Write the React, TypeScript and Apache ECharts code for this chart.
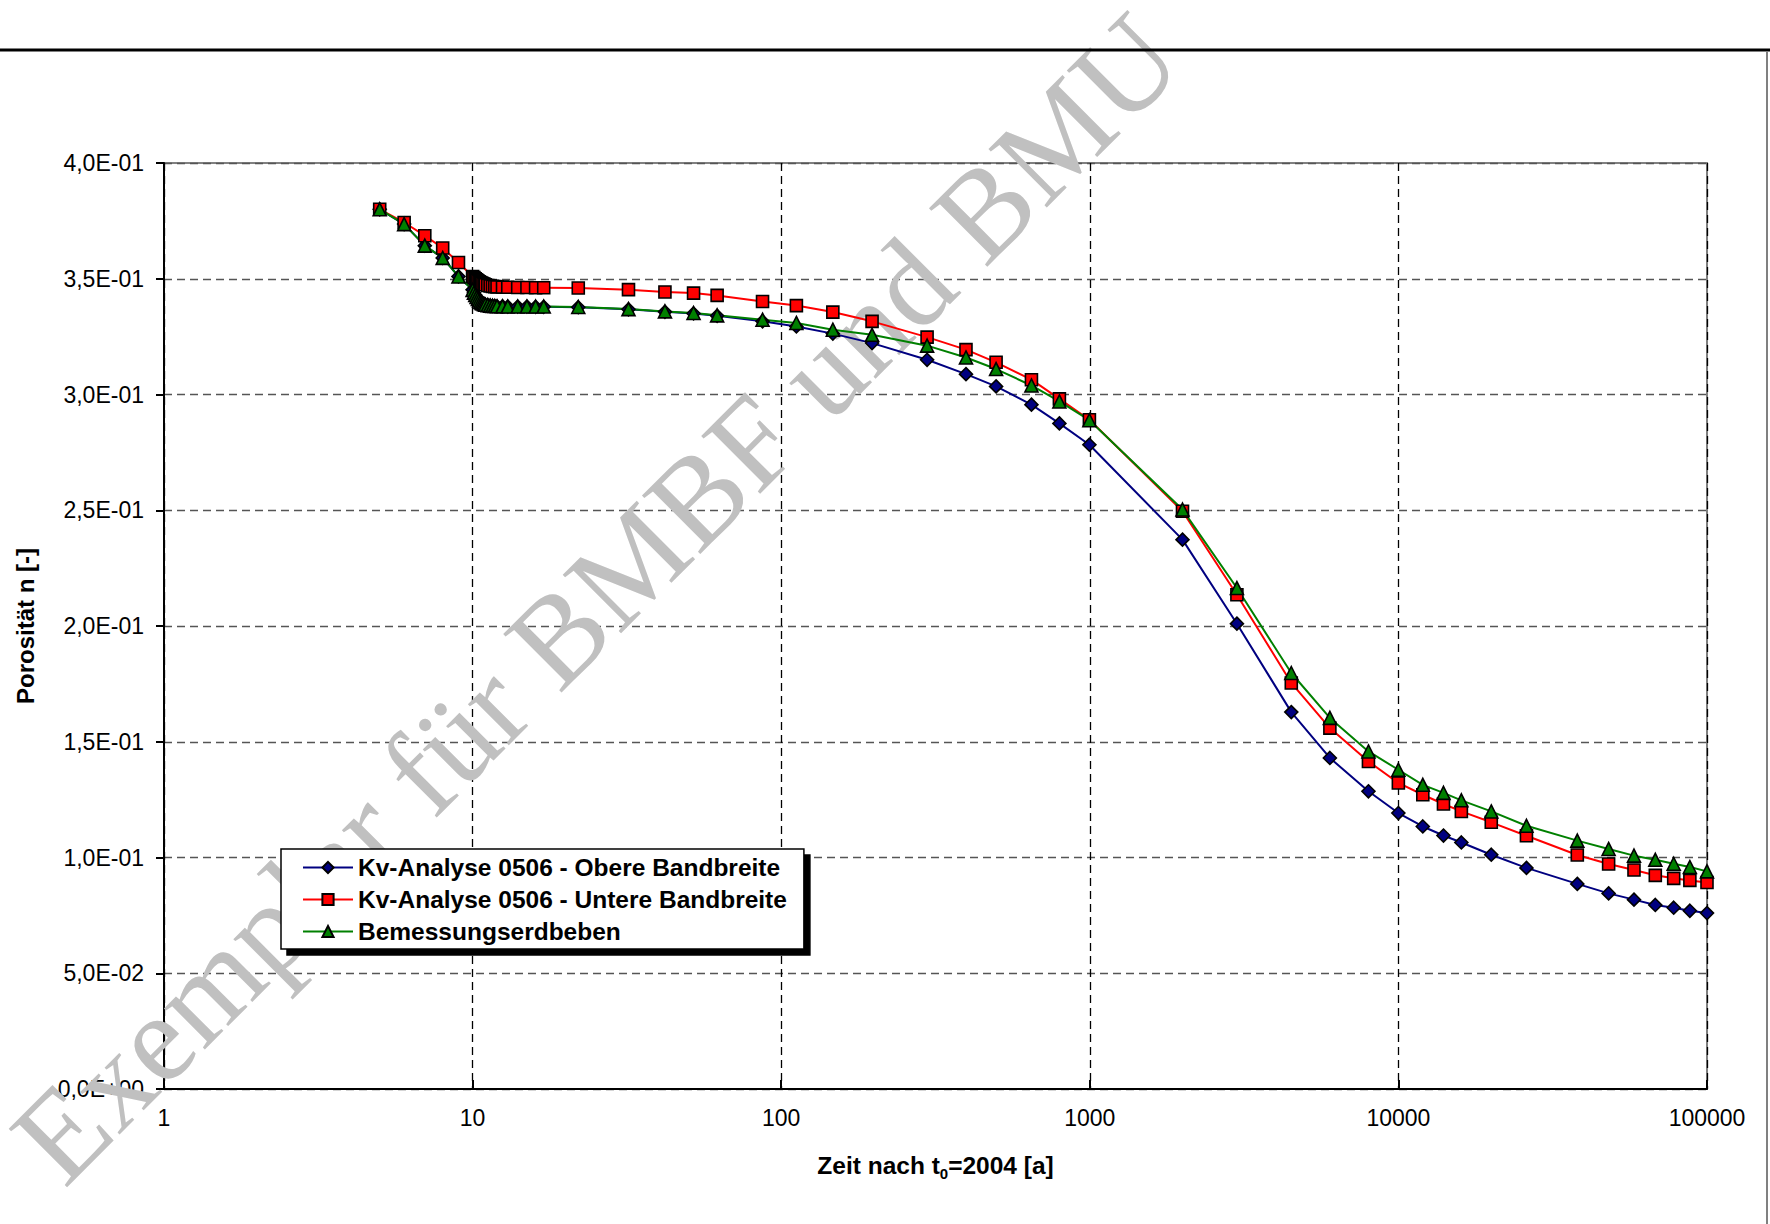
import React, { useEffect, useRef } from "react";
import * as echarts from "echarts";

// Zeit nach t0=2004 [a]
const times = [
  5, 6, 7, 8, 9,
  10, 10.1, 10.2, 10.3, 10.4, 10.5, 10.6, 10.7, 10.8, 10.9,
  11, 11.2, 11.4, 11.6, 11.8,
  12, 12.5, 13,
  14, 15, 16, 17,
  22, 32, 42, 52, 62,
  87, 112, 147, 197,
  297, 397, 497, 647, 797, 997,
  1997, 2997, 4497, 5997, 7997, 9997,
  11997, 13997, 15997, 19997, 25997, 37997, 47997, 57997, 67997, 77997, 87997, 99997,
];

// Kv-Analyse 0506 - Obere Bandbreite
const obere = [
  0.380, 0.3736, 0.3643, 0.3590, 0.3510,
  0.3452, 0.3440, 0.3430, 0.3421, 0.3413, 0.3406, 0.3400, 0.3396, 0.3393, 0.3390,
  0.3388, 0.3386, 0.3384, 0.3383, 0.3382,
  0.3381, 0.3381, 0.3380,
  0.3380, 0.3380, 0.3379, 0.3379,
  0.3377, 0.3368, 0.3357, 0.3350, 0.3340,
  0.3316, 0.3294, 0.3263, 0.3222,
  0.3150, 0.3088, 0.3035, 0.2956, 0.2875, 0.2783,
  0.2373, 0.2010, 0.1628, 0.1430, 0.1286, 0.1192,
  0.1134, 0.1095, 0.1065, 0.1012, 0.0955, 0.0886, 0.0845, 0.0818, 0.0795, 0.0783, 0.0770, 0.0760,
];

// Kv-Analyse 0506 - Untere Bandbreite
const untere = [
  0.380, 0.3743, 0.3686, 0.3633, 0.3570,
  0.3510, 0.3505, 0.3500, 0.3495, 0.3491, 0.3487, 0.3484, 0.3481, 0.3478, 0.3476,
  0.3474, 0.3471, 0.3469, 0.3467, 0.3466,
  0.3465, 0.3464, 0.3463,
  0.3462, 0.3462, 0.3461, 0.3461,
  0.3460, 0.3453, 0.3443, 0.3438, 0.3428,
  0.3402, 0.3384, 0.3356, 0.3316,
  0.3248, 0.3194, 0.3139, 0.3064, 0.2981, 0.2891,
  0.2496, 0.2135, 0.1754, 0.1559, 0.1415, 0.1322,
  0.1271, 0.1231, 0.1199, 0.1152, 0.1094, 0.1011, 0.0972, 0.0946, 0.0923, 0.0910, 0.0901, 0.0892,
];

// Bemessungserdbeben
const bemessung = [
  0.380, 0.3736, 0.3643, 0.3590, 0.3510,
  0.3452, 0.3440, 0.3430, 0.3421, 0.3413, 0.3406, 0.3400, 0.3396, 0.3393, 0.3390,
  0.3388, 0.3386, 0.3384, 0.3383, 0.3382,
  0.3381, 0.3381, 0.3380,
  0.3380, 0.3380, 0.3380, 0.3380,
  0.3378, 0.3369, 0.3359, 0.3352, 0.3342,
  0.3323, 0.3309, 0.3280, 0.3258,
  0.3211, 0.3160, 0.3110, 0.3039, 0.2970, 0.2889,
  0.2503, 0.2164, 0.1797, 0.1603, 0.1458, 0.1379,
  0.1314, 0.1279, 0.1247, 0.1199, 0.1137, 0.1073, 0.1037, 0.1008, 0.0990, 0.0973, 0.0959, 0.0940,
];

const seriesNames = [
  "Kv-Analyse 0506 - Obere Bandbreite",
  "Kv-Analyse 0506 - Untere Bandbreite",
  "Bemessungserdbeben",
];

const xTickLabels = ["1", "10", "100", "1000", "10000", "100000"];
const yTickLabels = [
  "0,0E+00", "5,0E-02", "1,0E-01", "1,5E-01", "2,0E-01",
  "2,5E-01", "3,0E-01", "3,5E-01", "4,0E-01",
];

const watermark = "Exemplar für BMBF und BMU";

const FONT = "Liberation Sans, Arial, sans-serif";

function pair(vals: number[]) {
  return times.map((t, i) => [t, vals[i]]);
}

export default function App() {
  const ref = useRef<HTMLDivElement>(null);

  useEffect(() => {
    if (!ref.current) return;
    const chart = echarts.init(ref.current, null, { renderer: "svg" });

    const lineSeries = (
      name: string,
      vals: number[],
      color: string,
      symbol: string,
      size: number
    ) => ({
      name,
      type: "line",
      data: pair(vals),
      smooth: false,
      symbol,
      symbolSize: size,
      showAllSymbol: true,
      lineStyle: { color, width: 2 },
      itemStyle: { color, borderColor: "#000", borderWidth: 1.6 },
      emphasis: { disabled: true },
    });

    chart.setOption({
      animation: false,
      backgroundColor: "#fff",
      textStyle: { fontFamily: FONT },
      grid: {
        left: 164,
        right: 63,
        top: 163,
        bottom: 135,
        show: true,
        borderColor: "#808080",
        borderWidth: 2,
        backgroundColor: "transparent",
      },
      legend: {
        orient: "vertical",
        left: 281,
        top: 849,
        padding: [6, 17, 5, 21],
        itemWidth: 50,
        itemHeight: 14,
        itemGap: 7,
        backgroundColor: "#fff",
        borderColor: "#000",
        borderWidth: 1.5,
        shadowColor: "#000",
        shadowBlur: 0,
        shadowOffsetX: 6,
        shadowOffsetY: 6,
        textStyle: {
          fontFamily: FONT,
          fontSize: 24.5,
          fontWeight: "bold",
          color: "#000",
        },
        data: seriesNames,
      },
      xAxis: {
        type: "log",
        logBase: 10,
        min: 1,
        max: 100000,
        name: "{m|Zeit nach t}{s|0}{m|=2004 [a]}",
        nameLocation: "middle",
        nameGap: 64,
        nameTextStyle: {
          rich: {
            m: {
              fontFamily: FONT,
              fontSize: 24.5,
              fontWeight: "bold",
              color: "#000",
              lineHeight: 28,
              verticalAlign: "top",
            },
            s: {
              fontFamily: FONT,
              fontSize: 15,
              fontWeight: "bold",
              color: "#000",
              lineHeight: 16,
              verticalAlign: "bottom",
            },
          },
        },
        axisLine: { show: true, lineStyle: { color: "#000", width: 2 } },
        axisTick: { show: true, inside: true, length: 9, lineStyle: { color: "#000", width: 2 } },
        axisLabel: {
          fontFamily: FONT,
          fontSize: 23,
          color: "#000",
          margin: 17,
          formatter: (v: number) => {
            const idx = Math.round(Math.log10(v));
            return xTickLabels[idx] ?? String(Math.round(v));
          },
        },
        splitLine: {
          show: true,
          lineStyle: { color: "#000", width: 1.3, type: [8, 5] },
        },
        minorTick: { show: false },
        minorSplitLine: { show: false },
      },
      yAxis: {
        type: "value",
        min: 0,
        max: 0.4,
        interval: 0.05,
        name: "Porosität n [-]",
        nameLocation: "middle",
        nameGap: 127,
        nameTextStyle: {
          fontFamily: FONT,
          fontSize: 24,
          fontWeight: "bold",
          color: "#000",
        },
        axisLine: { show: true, lineStyle: { color: "#000", width: 2 } },
        axisTick: { show: true, inside: false, length: 8, lineStyle: { color: "#000", width: 2 } },
        axisLabel: {
          fontFamily: FONT,
          fontSize: 23,
          color: "#000",
          margin: 20,
          formatter: (v: number) => {
            const idx = Math.round(v / 0.05);
            return yTickLabels[idx] ?? String(v);
          },
        },
        splitLine: {
          show: true,
          lineStyle: { color: "#555", width: 1.3, type: [8, 5] },
        },
      },
      graphic: [
        {
          type: "line",
          z: 100,
          shape: { x1: 0, y1: 50, x2: 1770, y2: 50 },
          style: { stroke: "#000", lineWidth: 3 },
        },
        {
          type: "line",
          z: 100,
          shape: { x1: 1767, y1: 51, x2: 1767, y2: 1224 },
          style: { stroke: "#808080", lineWidth: 2 },
        },
        {
          type: "text",
          z: 1,
          silent: true,
          x: 596,
          y: 598,
          rotation: Math.PI / 4,
          style: {
            text: watermark,
            fontFamily: "Liberation Serif, Times New Roman, serif",
            fontSize: 126,
            fill: "#c0c0c0",
            align: "center",
            verticalAlign: "middle",
          },
        },
      ],
      series: [
        lineSeries(seriesNames[0], obere, "#000080", "diamond", 13),
        lineSeries(seriesNames[1], untere, "#ff0000", "rect", 12),
        lineSeries(seriesNames[2], bemessung, "#008000", "triangle", 13),
      ],
    });

    return () => {
      chart.dispose();
    };
  }, []);

  return (
    <div
      ref={ref}
      style={{ position: "absolute", left: 0, top: 0, width: 1770, height: 1224 }}
    />
  );
}
